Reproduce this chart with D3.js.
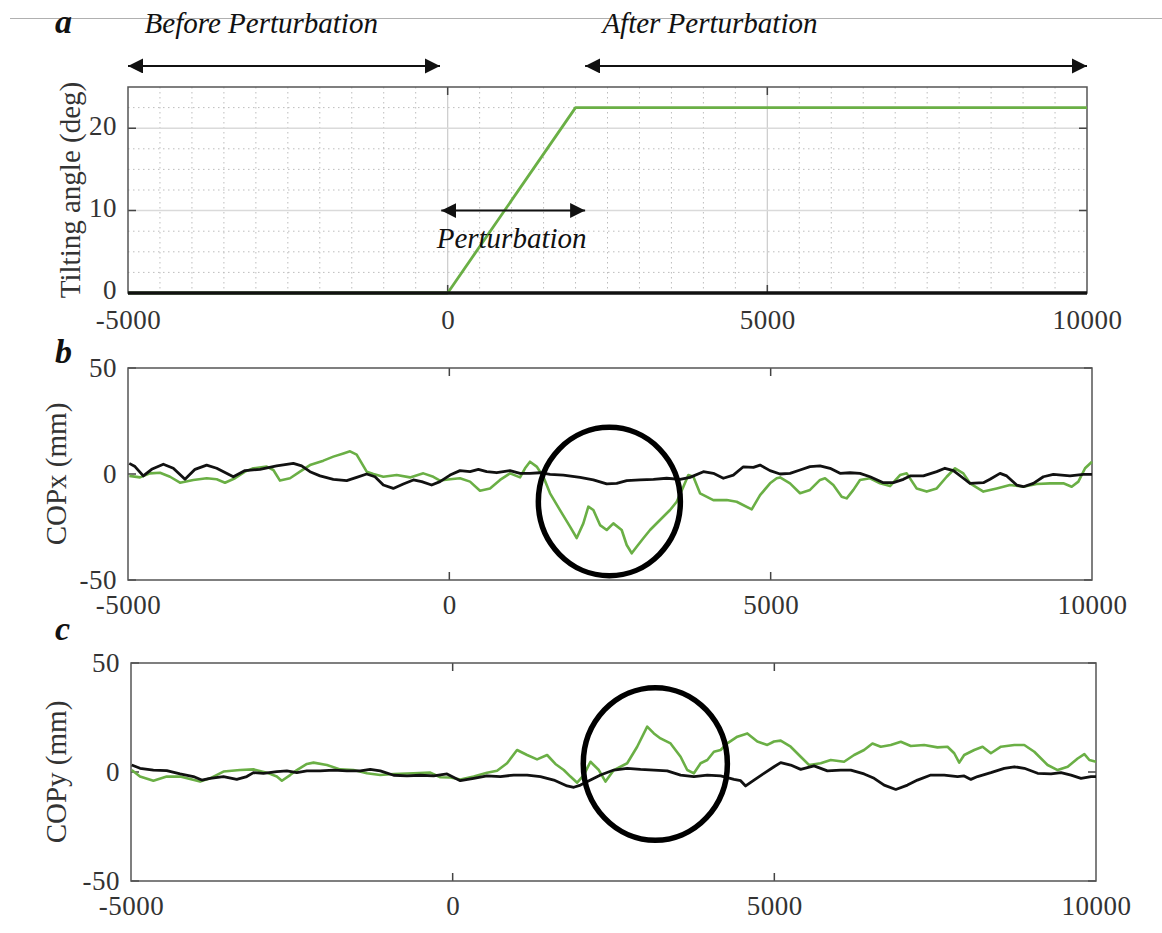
<!DOCTYPE html>
<html>
<head>
<meta charset="utf-8">
<script src="https://cdn.jsdelivr.net/npm/d3@7"></script>
<style>
body { margin: 0; background: #fff; }
text { font-family: "Liberation Serif", "Times New Roman", serif; }
</style>
</head>
<body>
<script>
// ---- data (time in ms, angle in deg, COP in mm) ----
var xTicks = [-5000, 0, 5000, 10000];
var tiltTicks = [0, 10, 20];
var copTicks = [-50, 0, 50];

var tiltGreen = [[-5000, 0], [0, 0], [2000, 22.5], [10000, 22.5]];
var tiltBlack = [[-5000, 0], [10000, 0]];

var copxBlack = [[-4980, 5.0], [-4891, 3.5], [-4762, -0.9], [-4632, 2.2], [-4450, 4.6], [-4295, 2.7],
  [-4113, -2.5], [-3957, 2.2], [-3776, 4.2], [-3620, 2.7], [-3361, -1.3], [-3179, 1.6], [-2946, 2.2],
  [-2687, 3.8], [-2427, 5.0], [-2298, 3.8], [-2168, 1.1], [-2012, -0.9], [-1805, -2.5], [-1597, -3.1],
  [-1442, -1.6], [-1286, 0], [-1157, -1.3], [-1027, -5.2], [-872, -6.8], [-716, -4.7], [-560, -2.8],
  [-430, -3.6], [-275, -5.2], [-145, -3.6], [11, -0.5], [166, 1.6], [322, 1.1], [452, 2.2], [581, 1.1],
  [737, 0.6], [944, 1.6], [1100, 0.3], [1255, 0.3], [1411, 0.6], [1567, -0.2], [1774, -0.5], [2034, -1.6],
  [2241, -2.8], [2449, -4.7], [2604, -4.4], [2760, -3.1], [2967, -2.8], [3175, -2.5], [3382, -2.0],
  [3590, -2.5], [3745, -1.6], [3953, 1.1], [4108, 0.3], [4264, -2.0], [4419, -0.5], [4575, 3.4],
  [4731, 3.1], [4835, 4.2], [4990, 1.6], [5146, 0], [5301, 0.3], [5457, 1.9], [5612, 3.5], [5768, 3.8],
  [5924, 2.7], [6079, 0.3], [6235, 0.6], [6390, 0.3], [6546, -1.3], [6754, -4.1], [6909, -4.1],
  [7065, -2.5], [7169, -0.9], [7376, -0.9], [7584, 1.1], [7712, 2.7], [7843, 1.6], [7998, -2.0],
  [8102, -4.4], [8310, -4.1], [8413, -2.5], [8569, 0.3], [8673, -0.9], [8828, -5.2], [8932, -6.0],
  [9088, -4.4], [9243, -1.3], [9399, -0.2], [9658, -0.9], [9866, -0.2], [10000, -0.2]];

var copxGreen = [[-4979, -0.9], [-4813, -1.6], [-4658, 0.3], [-4502, 0.6], [-4346, -1.3], [-4191, -4.1],
  [-3983, -2.8], [-3776, -2.0], [-3620, -2.5], [-3491, -4.1], [-3335, -2.0], [-3179, 1.1], [-3050, 2.7],
  [-2842, 3.5], [-2738, 1.9], [-2635, -3.1], [-2479, -2.0], [-2324, 1.1], [-2168, 4.2], [-1960, 6.3],
  [-1805, 8.2], [-1649, 9.7], [-1545, 10.7], [-1442, 9.1], [-1286, 1.1], [-1182, 0], [-1027, -1.3],
  [-819, -0.5], [-612, -1.6], [-404, 0.3], [-249, -1.3], [-145, -3.1], [11, -2.5], [166, -2.0],
  [322, -3.6], [477, -7.9], [633, -6.8], [789, -2.8], [944, 0.3], [1100, -1.6], [1178, 2.7], [1255, 5.8],
  [1359, 3.5], [1463, -1.3], [1567, -9.1], [1722, -17], [1878, -24.8], [1982, -30.2], [2085, -23.3],
  [2163, -15.4], [2241, -17.0], [2345, -24.1], [2449, -26.4], [2552, -23.3], [2682, -26.4], [2760, -33.5],
  [2838, -37.4], [2915, -34.3], [3019, -30.3], [3123, -26.4], [3278, -21.7], [3434, -17], [3538, -13.1],
  [3642, -6.0], [3719, -0.5], [3797, -1.3], [3901, -9.1], [4108, -12.3], [4316, -12.3], [4471, -13.1],
  [4705, -16.7], [4835, -10], [4990, -4.4], [5094, -2.0], [5146, -1.6], [5301, -4.4], [5457, -9.1],
  [5612, -7.5], [5768, -2.8], [5846, -2.0], [5975, -5.2], [6105, -10.7], [6183, -11.5], [6287, -7.5],
  [6390, -2.8], [6546, -2.0], [6702, -4.4], [6857, -5.7], [7013, -0.5], [7117, 0.3], [7272, -6.8],
  [7428, -8.3], [7584, -6.8], [7739, -1.3], [7869, 2.7], [7998, 0.3], [8102, -4.4], [8310, -8.3],
  [8517, -6.8], [8724, -5.2], [8932, -6.0], [9140, -4.7], [9347, -4.4], [9554, -4.4], [9684, -6.0],
  [9788, -3.6], [9892, 2.7], [10000, 5.8]];

var copyBlack = [[-4989, 3.2], [-4860, 1.7], [-4652, 0.9], [-4445, 0.6], [-4237, -0.9], [-4030, -2.1],
  [-3900, -3.7], [-3771, -2.9], [-3563, -2.1], [-3356, -3.4], [-3200, -2.1], [-3096, -0.3], [-2941, -0.6],
  [-2733, 0.2], [-2578, 0.5], [-2422, -0.3], [-2266, 0.5], [-2059, 0.5], [-1851, 0.9], [-1644, 0.5],
  [-1436, 0.5], [-1281, 1.2], [-1125, 0.5], [-918, -1.5], [-710, -1.8], [-503, -1.5], [-295, -1.8],
  [-88, -0.9], [119, -4.0], [327, -2.9], [534, -1.8], [742, -2.1], [949, -1.4], [1157, -1.4], [1364, -2.1],
  [1572, -3.7], [1779, -6.4], [1883, -7.0], [1987, -6.0], [2142, -3.7], [2298, -1.4], [2505, 0.9],
  [2713, 1.7], [2920, 1.2], [3128, 0.9], [3335, 0.5], [3543, -1.4], [3750, -2.1], [3958, -1.4],
  [4165, -1.8], [4373, -3.4], [4476, -4.0], [4554, -6.4], [4684, -3.7], [4839, -0.6], [4995, 2.4],
  [5099, 4.3], [5254, 3.2], [5410, 1.2], [5617, 2.8], [5825, 0.5], [6032, 0.9], [6188, 0.9], [6395, -0.9],
  [6551, -2.9], [6707, -6.0], [6888, -8.0], [7070, -6.0], [7225, -3.7], [7433, -1.4], [7640, -1.4],
  [7848, -2.1], [7951, -1.8], [8055, -3.4], [8159, -2.1], [8366, -0.3], [8574, 1.7], [8730, 2.4],
  [8885, 1.7], [9093, -0.6], [9300, -0.9], [9456, -0.3], [9612, -1.4], [9767, -2.9], [9923, -2.1],
  [10000, -2.1]];

var copyGreen = [[-4989, 0.9], [-4860, -2.1], [-4652, -4.0], [-4445, -2.1], [-4237, -2.1], [-3926, -4.4],
  [-3771, -2.9], [-3563, 0.2], [-3304, 0.9], [-3096, 1.2], [-2889, -0.3], [-2733, -2.1], [-2655, -4.0],
  [-2526, -1.4], [-2422, 0.9], [-2266, 3.7], [-2163, 4.3], [-1955, 3.2], [-1748, 1.2], [-1540, 0.9],
  [-1333, -0.6], [-1125, -1.4], [-918, -0.9], [-606, -0.6], [-347, -0.3], [-192, -2.4], [-36, -2.5],
  [119, -3.4], [327, -2.1], [534, -0.3], [690, 0.6], [845, 4.0], [1001, 10.1], [1157, 7.8], [1312, 5.8],
  [1468, 7.8], [1597, 3.7], [1727, 0.9], [1831, -2.1], [1935, -4.9], [2038, -1.4], [2142, 4.7],
  [2272, 0.9], [2376, -4.4], [2505, 0.9], [2713, 4.0], [2868, 11.6], [3024, 20.8], [3128, 17.7],
  [3231, 15.4], [3387, 13.1], [3543, 7.0], [3646, 0.9], [3750, -0.6], [3854, 4.0], [3958, 5.5],
  [4061, 9.3], [4165, 10.1], [4269, 13.1], [4425, 16.2], [4580, 17.7], [4736, 14.0], [4891, 12.4],
  [4995, 14.0], [5099, 14.4], [5254, 11.6], [5410, 7.0], [5540, 3.2], [5721, 4.0], [5877, 5.5],
  [6084, 4.7], [6240, 7.8], [6395, 10.1], [6525, 13.1], [6655, 11.6], [6810, 12.4], [6966, 13.9],
  [7121, 11.9], [7329, 12.4], [7536, 11.3], [7692, 11.6], [7796, 8.6], [7874, 4.3], [7951, 7.8],
  [8107, 10.1], [8237, 11.6], [8366, 8.6], [8522, 11.6], [8730, 12.4], [8885, 12.4], [9041, 9.3],
  [9248, 3.2], [9404, 0.9], [9560, 2.4], [9715, 6.2], [9819, 8.2], [9897, 5.5], [10000, 4.7]];

// highlight ellipses: [centre time, centre value, half-width ms, half-height units]
var circleB = [2490, -13, 1105, 35];
var circleC = [3150, 3.7, 1120, 35];

var green = "#6aaf45";
var black = "#111";

var svg = d3.select("body").append("svg")
  .attr("width", 1162)
  .attr("height", 933);

svg.append("defs").append("marker")
  .attr("id", "head")
  .attr("markerUnits", "userSpaceOnUse")
  .attr("markerWidth", 16).attr("markerHeight", 16)
  .attr("refX", 15).attr("refY", 7.5)
  .attr("orient", "auto-start-reverse")
  .append("path")
  .attr("d", "M0,0 L15,7.5 L0,15 z")
  .attr("fill", black);

// thin separator line at top
svg.append("line")
  .attr("x1", 10).attr("x2", 1162)
  .attr("y1", 18.5).attr("y2", 18.5)
  .attr("stroke", "#b0b0b0").attr("stroke-width", 1);

function panel(cfg) {
  var x = d3.scaleLinear().domain([-5000, 10000]).range([cfg.left, cfg.right]);
  var y = d3.scaleLinear().domain(cfg.yDomain).range([cfg.bottom, cfg.top]);
  var g = svg.append("g");

  if (cfg.grid) {
    var minorX = d3.range(-4500, 10000, 500).filter(function (v) { return v % 5000 !== 0; });
    var minorY = d3.range(2.5, 25, 2.5).filter(function (v) { return v % 10 !== 0; });
    g.selectAll(".mx").data(minorX).enter().append("line")
      .attr("x1", x).attr("x2", x).attr("y1", cfg.top).attr("y2", cfg.bottom)
      .attr("stroke", "#bdbdbd").attr("stroke-dasharray", "1.5,3.5");
    g.selectAll(".my").data(minorY).enter().append("line")
      .attr("x1", cfg.left).attr("x2", cfg.right).attr("y1", y).attr("y2", y)
      .attr("stroke", "#bdbdbd").attr("stroke-dasharray", "1.5,3.5");
    g.selectAll(".gx").data([0, 5000]).enter().append("line")
      .attr("x1", x).attr("x2", x).attr("y1", cfg.top).attr("y2", cfg.bottom)
      .attr("stroke", "#cfcfcf").attr("stroke-width", 1.3);
    g.selectAll(".gy").data([10, 20]).enter().append("line")
      .attr("x1", cfg.left).attr("x2", cfg.right).attr("y1", y).attr("y2", y)
      .attr("stroke", "#dadada").attr("stroke-width", 1.5);
  }

  // inner ticks
  g.selectAll(".tx").data([0, 5000]).enter().append("path")
    .attr("d", function (d) {
      return "M" + x(d) + "," + cfg.top + "v8M" + x(d) + "," + cfg.bottom + "v-8";
    })
    .attr("stroke", "#444").attr("stroke-width", 1.5);
  g.selectAll(".ty").data(cfg.yTicks).enter().append("path")
    .attr("d", function (d) {
      return "M" + cfg.left + "," + y(d) + "h8M" + cfg.right + "," + y(d) + "h-8";
    })
    .attr("stroke", "#444").attr("stroke-width", 1.5);

  // box
  g.append("rect")
    .attr("x", cfg.left).attr("y", cfg.top)
    .attr("width", cfg.right - cfg.left).attr("height", cfg.bottom - cfg.top)
    .attr("fill", "none").attr("stroke", "#555").attr("stroke-width", 1.5);

  // axes labels (plain hyphen minus, as in the original)
  var fmt = function (d) { return String(d); };
  var xa = g.append("g")
    .attr("transform", "translate(0," + cfg.bottom + ")")
    .call(d3.axisBottom(x).tickValues(xTicks).tickSize(0).tickPadding(cfg.xPad).tickFormat(fmt));
  var ya = g.append("g")
    .attr("transform", "translate(" + cfg.left + ",0)")
    .call(d3.axisLeft(y).tickValues(cfg.yTicks).tickSize(0).tickPadding(11).tickFormat(fmt));
  [xa, ya].forEach(function (a) {
    a.select(".domain").remove();
    a.selectAll("text")
      .attr("font-family", "Liberation Serif")
      .attr("font-size", 27)
      .attr("letter-spacing", 0.5)
      .attr("fill", "#333");
  });
  ya.selectAll("text").attr("dy", cfg.yDy);

  g.append("text")
    .attr("transform", "translate(" + cfg.titleX + "," + ((cfg.top + cfg.bottom) / 2) + ") rotate(-90)")
    .attr("text-anchor", "middle")
    .attr("dy", "0.35em")
    .attr("font-size", 29)
    .attr("fill", "#333")
    .text(cfg.title);

  g.append("text")
    .attr("x", 55).attr("y", cfg.letterY)
    .attr("font-size", 34).attr("font-weight", "bold").attr("font-style", "italic")
    .attr("fill", "#111")
    .text(cfg.letter);

  var line = d3.line().x(function (d) { return x(d[0]); }).y(function (d) { return y(d[1]); });
  cfg.series.forEach(function (s) {
    g.append("path")
      .datum(s.data)
      .attr("d", line)
      .attr("fill", "none")
      .attr("stroke", s.color)
      .attr("stroke-width", s.width)
      .attr("stroke-linejoin", "round");
  });

  return { x: x, y: y, g: g };
}

// ---- panel a ----
var pa = panel({
  left: 128, right: 1087, top: 87, bottom: 293,
  yDomain: [0, 25], yTicks: tiltTicks, grid: true, xPad: 17, yDy: "0.22em",
  title: "Tilting angle (deg)", titleX: 70, letter: "a", letterY: 33,
  series: [
    { data: tiltGreen, color: green, width: 2.8 },
    { data: tiltBlack, color: black, width: 3.5 }
  ]
});

function arrow(p, t0, t1, v) {
  svg.append("line")
    .attr("x1", p.x(t0)).attr("x2", p.x(t1))
    .attr("y1", p.y(v)).attr("y2", p.y(v))
    .attr("stroke", black).attr("stroke-width", 2)
    .attr("marker-start", "url(#head)")
    .attr("marker-end", "url(#head)");
}
arrow(pa, -5000, -120, 27.55);
arrow(pa, 2150, 10000, 27.55);
arrow(pa, -100, 2150, 10);

function note(p, t, v, txt, anchor) {
  svg.append("text")
    .attr("x", p.x(t)).attr("y", p.y(v))
    .attr("text-anchor", anchor)
    .attr("font-size", 29).attr("font-style", "italic")
    .attr("fill", "#111")
    .text(txt);
}
note(pa, -4740, 31.6, "Before Perturbation", "start");
note(pa, 2420, 31.6, "After Perturbation", "start");
note(pa, 1000, 5.5, "Perturbation", "middle");

// ---- panel b ----
var pb = panel({
  left: 128, right: 1092, top: 368, bottom: 580,
  yDomain: [-50, 50], yTicks: copTicks, grid: false, xPad: 15, yDy: "0.32em",
  title: "COPx (mm)", titleX: 56, letter: "b", letterY: 363,
  series: [
    { data: copxGreen, color: green, width: 2.6 },
    { data: copxBlack, color: black, width: 2.8 }
  ]
});

// ---- panel c ----
var pc = panel({
  left: 131, right: 1096, top: 663, bottom: 881,
  yDomain: [-50, 50], yTicks: copTicks, grid: false, xPad: 15, yDy: "0.32em",
  title: "COPy (mm)", titleX: 56, letter: "c", letterY: 640,
  series: [
    { data: copyGreen, color: green, width: 2.6 },
    { data: copyBlack, color: black, width: 2.8 }
  ]
});

function ring(p, c) {
  svg.append("ellipse")
    .attr("cx", p.x(c[0])).attr("cy", p.y(c[1]))
    .attr("rx", p.x(c[0] + c[2]) - p.x(c[0]))
    .attr("ry", p.y(c[1]) - p.y(c[1] + c[3]))
    .attr("fill", "none").attr("stroke", "#000").attr("stroke-width", 5.5);
}
ring(pb, circleB);
ring(pc, circleC);
</script>
</body>
</html>
